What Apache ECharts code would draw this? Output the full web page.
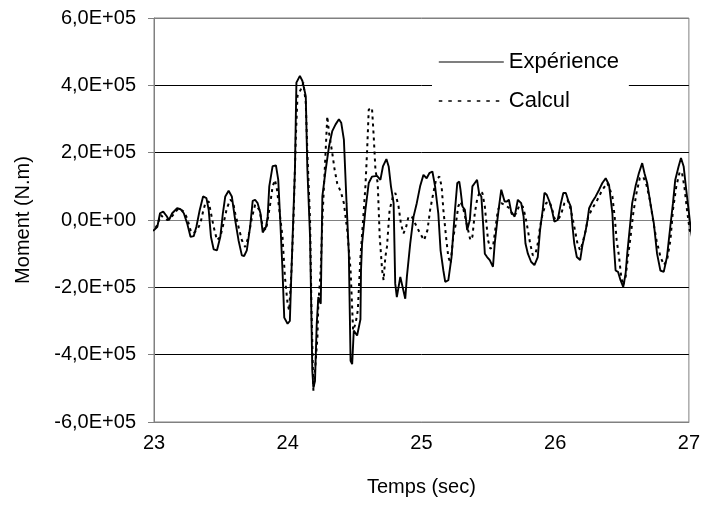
<!DOCTYPE html>
<html>
<head>
<meta charset="utf-8">
<script src="https://cdn.jsdelivr.net/npm/echarts@6/dist/echarts.min.js"></script>
<style>
  html, body { margin: 0; padding: 0; background: #fff; }
  #chart { width: 703px; height: 510px; }
</style>
</head>
<body>
<div id="chart"></div>
<script>
// moments are stored in units of 1e5 N.m
const expTime = [22.97, 23.00, 23.025, 23.045, 23.069, 23.094, 23.112, 23.136, 23.173, 23.199, 23.223, 23.248, 23.273, 23.297, 23.317, 23.342, 23.367, 23.392, 23.409, 23.426, 23.446, 23.471, 23.496, 23.515, 23.533, 23.558, 23.582, 23.607, 23.632, 23.657, 23.674, 23.694, 23.719, 23.738, 23.756, 23.775, 23.796, 23.813, 23.838, 23.850, 23.862, 23.887, 23.912, 23.929, 23.944, 23.961, 23.974, 23.999, 24.016, 24.024, 24.041, 24.054, 24.065, 24.091, 24.110, 24.135, 24.147, 24.167, 24.184, 24.192, 24.204, 24.217, 24.229, 24.247, 24.259, 24.284, 24.309, 24.333, 24.358, 24.383, 24.400, 24.420, 24.440, 24.457, 24.470, 24.482, 24.494, 24.519, 24.544, 24.548, 24.556, 24.581, 24.606, 24.630, 24.668, 24.693, 24.712, 24.738, 24.755, 24.772, 24.792, 24.804, 24.816, 24.842, 24.879, 24.891, 24.916, 24.941, 24.965, 24.990, 25.015, 25.039, 25.059, 25.082, 25.102, 25.126, 25.143, 25.164, 25.178, 25.201, 25.225, 25.251, 25.268, 25.283, 25.292, 25.307, 25.325, 25.342, 25.362, 25.381, 25.399, 25.416, 25.431, 25.448, 25.461, 25.474, 25.491, 25.511, 25.535, 25.548, 25.565, 25.580, 25.597, 25.610, 25.622, 25.639, 25.654, 25.671, 25.697, 25.721, 25.746, 25.764, 25.778, 25.796, 25.820, 25.845, 25.870, 25.887, 25.907, 25.920, 25.937, 25.957, 25.976, 25.994, 26.019, 26.043, 26.061, 26.080, 26.100, 26.117, 26.130, 26.143, 26.162, 26.187, 26.204, 26.229, 26.242, 26.254, 26.279, 26.303, 26.329, 26.353, 26.378, 26.403, 26.428, 26.440, 26.452, 26.470, 26.489, 26.509, 26.527, 26.539, 26.564, 26.576, 26.601, 26.626, 26.651, 26.668, 26.688, 26.712, 26.738, 26.762, 26.787, 26.812, 26.836, 26.861, 26.881, 26.898, 26.923, 26.941, 26.961, 26.980, 26.998, 27.015, 27.035];
const expMoment = [-0.35, -0.3, -0.2, 0.2, 0.25, 0.12, 0, 0.2, 0.35, 0.32, 0.2, -0.1, -0.5, -0.48, -0.2, 0.3, 0.7, 0.65, 0.3, -0.5, -0.87, -0.9, -0.5, 0.2, 0.7, 0.87, 0.7, 0, -0.6, -1.05, -1.07, -0.9, -0.2, 0.57, 0.6, 0.5, 0.2, -0.37, -0.2, 0.1, 1.0, 1.6, 1.62, 1.2, 0, -1.5, -2.9, -3.08, -3.0, -2.0, 0, 1.5, 4.08, 4.28, 4.13, 3.68, 1.5, -0.5, -4.48, -4.98, -4.78, -3.08, -2.29, -2.49, 0.7, 1.5, 2.19, 2.64, 2.84, 2.99, 2.89, 2.39, 0.5, -1.0, -4.18, -4.28, -3.28, -3.43, -2.95, -1.5, -0.7, 0.3, 1.1, 1.29, 1.31, 1.19, 1.59, 1.81, 1.59, 1.0, 0.5, -1.89, -2.29, -1.69, -2.34, -1.69, -0.7, 0.1, 0.5, 1.0, 1.34, 1.24, 1.39, 1.44, 1.0, 0.2, -0.9, -1.5, -1.84, -1.79, -1.1, 0.3, 1.1, 1.14, 0.9, 0.4, 0.3, -0.3, 0, 1.0, 1.1, 1.19, 0.8, 0.7, -0.1, -1.0, -1.1, -1.19, -1.39, -0.7, -0.1, 0.4, 0.9, 0.9, 0.55, 0.55, 0.6, 0.25, 0.1, 0.6, 0.5, 0.1, -0.7, -1.0, -1.24, -1.34, -1.1, -0.3, 0.3, 0.81, 0.75, 0.55, 0.3, -0.05, 0, 0.5, 0.8, 0.8, 0.55, 0.4, -0.2, -0.7, -1.1, -1.19, -0.75, -0.3, 0, 0.35, 0.55, 0.7, 0.9, 1.1, 1.24, 1.04, 0.2, -0.8, -1.5, -1.54, -1.79, -1.99, -1.59, -1.0, 0, 0.5, 1.0, 1.39, 1.69, 1.39, 1.1, 0.5, -0.1, -1.0, -1.5, -1.54, -1.1, -0.2, 0.5, 1.19, 1.59, 1.84, 1.59, 0.9, 0.3, -0.3, -0.8];

const calTime = [22.97, 23.00, 23.025, 23.050, 23.069, 23.099, 23.124, 23.161, 23.186, 23.223, 23.248, 23.273, 23.292, 23.322, 23.347, 23.367, 23.384, 23.409, 23.426, 23.446, 23.471, 23.496, 23.520, 23.545, 23.570, 23.590, 23.607, 23.632, 23.657, 23.682, 23.706, 23.731, 23.756, 23.788, 23.813, 23.838, 23.870, 23.887, 23.905, 23.920, 23.937, 23.961, 23.979, 23.999, 24.011, 24.028, 24.043, 24.061, 24.073, 24.098, 24.117, 24.135, 24.147, 24.167, 24.177, 24.192, 24.204, 24.222, 24.229, 24.247, 24.259, 24.277, 24.296, 24.309, 24.333, 24.351, 24.370, 24.400, 24.420, 24.445, 24.470, 24.489, 24.507, 24.524, 24.544, 24.569, 24.581, 24.593, 24.606, 24.630, 24.643, 24.656, 24.673, 24.688, 24.706, 24.717, 24.730, 24.742, 24.762, 24.787, 24.805, 24.829, 24.846, 24.866, 24.886, 24.903, 24.928, 24.965, 24.990, 25.020, 25.045, 25.065, 25.084, 25.109, 25.134, 25.151, 25.164, 25.184, 25.201, 25.218, 25.238, 25.258, 25.275, 25.292, 25.312, 25.332, 25.349, 25.366, 25.381, 25.399, 25.416, 25.436, 25.456, 25.474, 25.486, 25.498, 25.515, 25.535, 25.555, 25.572, 25.597, 25.622, 25.659, 25.684, 25.709, 25.734, 25.758, 25.778, 25.796, 25.813, 25.833, 25.853, 25.870, 25.887, 25.907, 25.932, 25.957, 25.976, 25.994, 26.019, 26.043, 26.069, 26.093, 26.117, 26.143, 26.167, 26.187, 26.204, 26.229, 26.247, 26.279, 26.316, 26.353, 26.390, 26.410, 26.428, 26.445, 26.460, 26.478, 26.494, 26.509, 26.527, 26.544, 26.564, 26.584, 26.608, 26.633, 26.658, 26.683, 26.708, 26.732, 26.758, 26.788, 26.813, 26.837, 26.862, 26.881, 26.906, 26.932, 26.949, 26.966, 26.986, 27.006, 27.035];
const calMoment = [-0.35, -0.3, -0.15, 0.15, 0.08, 0, 0.05, 0.25, 0.35, 0.25, 0.05, -0.3, -0.4, -0.3, -0.1, 0.25, 0.5, 0.55, 0.2, -0.2, -0.6, -0.5, -0.1, 0.35, 0.6, 0.55, 0.2, -0.2, -0.6, -0.8, -0.5, 0.05, 0.45, 0.3, -0.2, -0.3, 0.5, 1.0, 1.19, 0.9, 0.3, -0.5, -1.69, -2.49, -2.69, -1.49, 0, 2.49, 3.68, 3.88, 4.08, 3.48, 2.0, 0, -2.49, -5.07, -4.48, -3.48, -2.49, -1.49, 0, 1.5, 3.08, 2.59, 1.99, 1.49, 1.09, 0.8, 0.5, -0.3, -1.49, -3.28, -3.08, -2.69, -1.1, 0.3, 1.0, 1.99, 3.28, 3.33, 2.49, 1.49, 1.09, -0.5, -1.49, -1.79, -1.1, -0.8, 0.3, 0.7, 0.8, 0.4, -0.1, -0.4, -0.2, 0.1, 0.1, -0.2, -0.4, -0.6, -0.3, 0.3, 0.7, 1.19, 1.29, 1.0, 0.3, -0.5, -1.1, -1.29, -0.5, -0.1, 0.4, 0.55, 0.35, 0, -0.3, -0.6, -0.5, 0.2, 0.6, 0.85, 0.8, 0.4, -0.1, -0.6, -0.85, -0.8, -0.2, 0.3, 0.5, 0.45, 0.35, 0.1, 0.2, 0.45, 0.4, 0.1, -0.3, -0.7, -1.05, -1.0, -0.7, -0.2, 0.2, 0.5, 0.55, 0.35, 0.05, 0, 0.15, 0.5, 0.6, 0.3, -0.2, -0.7, -0.9, -0.7, -0.3, 0.1, 0.35, 0.6, 0.9, 1.1, 0.9, 0.7, 0.1, -0.6, -1.1, -1.69, -1.94, -1.69, -1.1, -0.5, 0.2, 0.8, 1.24, 1.29, 1.04, 0.6, 0, -0.6, -1.1, -1.34, -1.19, -0.6, 0.3, 1.0, 1.44, 1.39, 1.0, 0.3, -0.3, -0.7];

const seriesNames = ['Expérience', 'Calcul'];
const timeTicks = [23, 27, 1];       // min, max, step
const momentTicks = [-6e5, 6e5, 2e5]; // min, max, step

const FONT = '"Liberation Sans", Arial, sans-serif';

function toPairs(times, values) {
  return times.map((t, i) => [t, values[i] * 1e5]);
}

function sciLabel(value) {
  if (value === 0) return '0,0E+00';
  const sign = value < 0 ? '-' : '';
  const abs = Math.abs(value);
  const exp = Math.floor(Math.log10(abs) + 1e-9);
  const mant = (abs / Math.pow(10, exp)).toFixed(1).replace('.', ',');
  return sign + mant + 'E+' + String(exp).padStart(2, '0');
}

const chart = echarts.init(document.getElementById('chart'), null, { renderer: 'canvas' });

chart.setOption({
  animation: false,
  backgroundColor: '#fff',
  textStyle: { fontFamily: FONT },
  grid: {
    left: 154,
    right: 11,
    top: 18,
    bottom: 88,
    show: true,
    borderColor: '#808080',
    borderWidth: 1,
    backgroundColor: 'transparent',
  },
  legend: {
    orient: 'vertical',
    left: 432,
    top: 45,
    padding: [6, 10, 6, 6],
    backgroundColor: '#fff',
    itemWidth: 65,
    itemHeight: 22,
    itemGap: 17,
    z: 10,
    itemStyle: { opacity: 0 },
    lineStyle: { width: 1.2 },
    textStyle: { color: '#000', fontSize: 22, lineHeight: 22, fontFamily: FONT },
    data: [
      { name: seriesNames[0] },
      { name: seriesNames[1], lineStyle: { type: [3.5, 6], width: 1.6 } },
    ],
  },
  xAxis: {
    type: 'value',
    min: timeTicks[0],
    max: timeTicks[1],
    interval: timeTicks[2],
    name: 'Temps (sec)',
    nameLocation: 'middle',
    nameGap: 55,
    nameTextStyle: { color: '#000', fontSize: 20, fontFamily: FONT },
    axisLine: { show: true, onZero: false, lineStyle: { color: '#808080', width: 1 } },
    axisTick: { show: false },
    axisLabel: { color: '#000', fontSize: 20, margin: 11, fontFamily: FONT },
    splitLine: { show: false },
  },
  yAxis: {
    type: 'value',
    min: momentTicks[0],
    max: momentTicks[1],
    interval: momentTicks[2],
    name: 'Moment (N.m)',
    nameLocation: 'middle',
    nameGap: 121,
    nameTextStyle: { color: '#000', fontSize: 20, fontFamily: FONT },
    axisLine: { show: true, lineStyle: { color: '#808080', width: 1 } },
    axisTick: { show: true, inside: false, length: 6, lineStyle: { color: '#808080' } },
    axisLabel: { color: '#000', fontSize: 20, margin: 18, fontFamily: FONT, formatter: sciLabel },
    splitLine: {
      show: true,
      lineStyle: {
        color: ['#808080', '#000', '#000', '#808080', '#000', '#000', '#808080'],
        width: 1,
      },
    },
  },
  series: [
    {
      name: seriesNames[0],
      type: 'line',
      symbol: 'none',
      clip: false,
      z: 3,
      lineStyle: { color: '#000', width: 1.9, type: 'solid' },
      itemStyle: { color: '#000' },
      data: toPairs(expTime, expMoment),
    },
    {
      name: seriesNames[1],
      type: 'line',
      symbol: 'none',
      clip: false,
      z: 4,
      lineStyle: { color: '#000', width: 2, type: [3, 4] },
      itemStyle: { color: '#000' },
      data: toPairs(calTime, calMoment),
    },
  ],
});
</script>
</body>
</html>
